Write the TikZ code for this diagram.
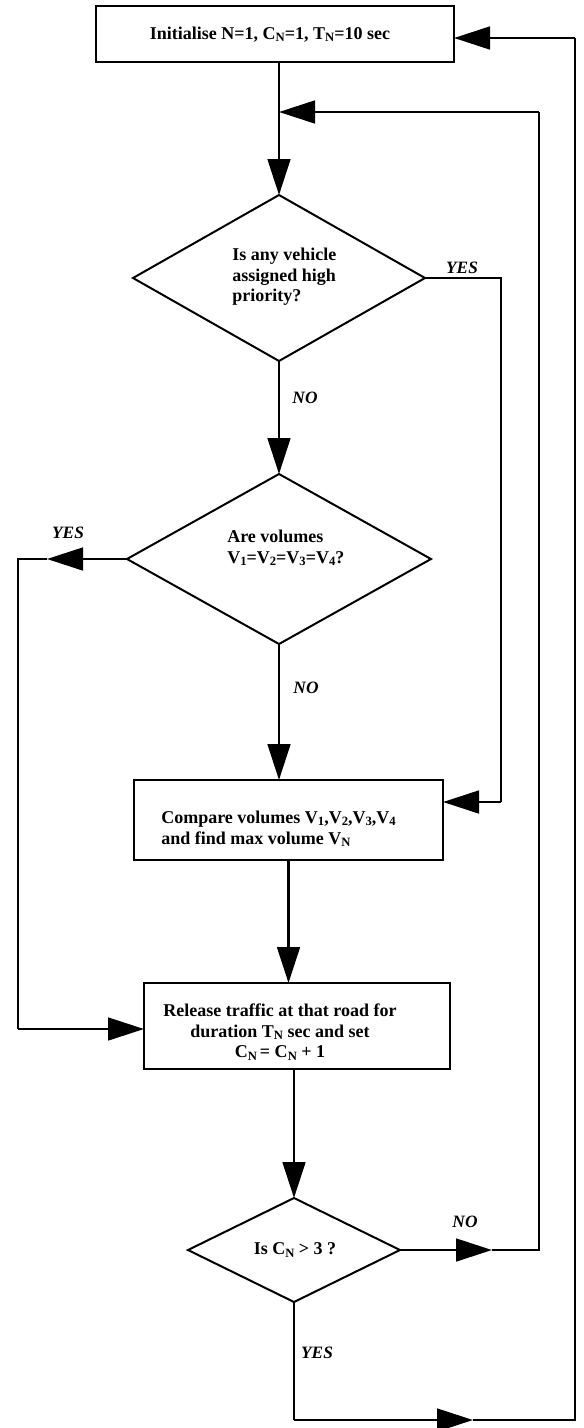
\documentclass[tikz,border=0pt]{standalone}
\usepackage{fontspec}
\setmainfont{Liberation Serif}
\usetikzlibrary{arrows.meta,shapes.geometric}
\newcommand{\lowsub}[1]{\raisebox{-1.6pt}{\fontsize{9.5}{10}\selectfont #1}}
\begin{document}
\begin{tikzpicture}[x=0.75pt,y=-0.75pt,
  font=\fontsize{13.5}{15.5}\selectfont\bfseries,
  boxst/.style={draw,line width=2.2pt,rectangle,inner sep=0pt,outer sep=0pt},
  decst/.style={draw,line width=1.5pt,diamond,inner sep=0pt,outer sep=0pt},
  txt/.style={inner sep=0pt,align=left},
  lab/.style={inner sep=0pt,font=\fontsize{13}{15}\selectfont\bfseries\itshape},
  conn/.style={line width=2.1pt},
  arr/.style={line width=2.1pt,-{Triangle[length=27pt,width=17pt]}}]
\useasboundingbox (0,0) rectangle (584,1428);
% boxes
\node[boxst,minimum width=268.5pt,minimum height=42pt] (top) at (275,34) {};
\node[txt] (topt) at (270,35) {Initialise N=1, C\lowsub{N}=1, T\lowsub{N}=10 sec};
\node[decst,minimum width=219pt,minimum height=124.5pt] (d1) at (279,278) {};
\node[txt,anchor=west] (d1t) at (232,277) {Is any vehicle\\assigned high\\priority?};
\node[decst,minimum width=228pt,minimum height=127.5pt] (d2) at (279,559) {};
\node[txt,anchor=west] (d2t) at (227,548) {Are volumes\\V\lowsub{1}=V\lowsub{2}=V\lowsub{3}=V\lowsub{4}?};
\node[boxst,minimum width=231.75pt,minimum height=60pt] (cmp) at (288.5,820) {};
\node[txt,anchor=west] (cmpt) at (161,829) {Compare volumes V\lowsub{1},V\lowsub{2},V\lowsub{3},V\lowsub{4}\\and find max volume V\lowsub{N}};
\node[boxst,minimum width=229.5pt,minimum height=64.5pt] (rel) at (297,1026) {};
\node[txt,align=center] (relt) at (280,1032) {Release traffic at that road for\\duration T\lowsub{N} sec and set\\C\lowsub{N}\,= C\lowsub{N} + 1};
\node[decst,minimum width=159pt,minimum height=78pt] (d3) at (294,1250) {};
\node[txt] (d3t) at (295,1250) {Is C\lowsub{N} {>} 3 ?};
% labels
\node[lab] (y1) at (462,268) {YES};
\node[lab] (n1) at (305,398) {NO};
\node[lab] (y2) at (68,533) {YES};
\node[lab] (n2) at (306,688) {NO};
\node[lab] (n3) at (465,1222) {NO};
\node[lab] (y3) at (317,1353) {YES};
% coordinates
\coordinate (t1) at (279,62);
\coordinate (c1) at (501,278);
\coordinate (c2) at (501,802);
\coordinate (yl) at (47,559);
\coordinate (c3) at (18,559);
\coordinate (c4) at (18,1029);
\coordinate (nt) at (492,1250);
\coordinate (c5) at (539,1250);
\coordinate (c6) at (539,112);
\coordinate (j1) at (279,112);
\coordinate (c7) at (294,1420);
\coordinate (yt) at (473,1420);
\coordinate (c8) at (575,1420);
\coordinate (c9) at (575,38);
% connectors
\draw[arr] (t1) -- (d1.north);
\draw[arr] (d1.south) -- (d2.north);
\draw[arr] (d2.south) -- (cmp.north -| d2.south);
\draw[conn] (d1.east) -- (c1) -- (c2);
\draw[arr] (c2) -- (cmp.east |- c2);
\draw[arr] (cmp.south) -- (rel.north -| cmp.south);
\draw[arr] (d2.west) -- (yl);
\draw[conn] (yl) -- (c3) -- (c4);
\draw[arr] (c4) -- (rel.west |- c4);
\draw[arr] (rel.south -| d3.north) -- (d3.north);
\draw[arr] (d3.east) -- (nt);
\draw[conn] (nt) -- (c5) -- (c6);
\draw[arr] (c6) -- (j1);
\draw[conn] (d3.south) -- (c7);
\draw[arr] (c7) -- (yt);
\draw[conn] (yt) -- (c8) -- (c9);
\draw[arr] (c9) -- (top.east |- c9);
\end{tikzpicture}
\end{document}
